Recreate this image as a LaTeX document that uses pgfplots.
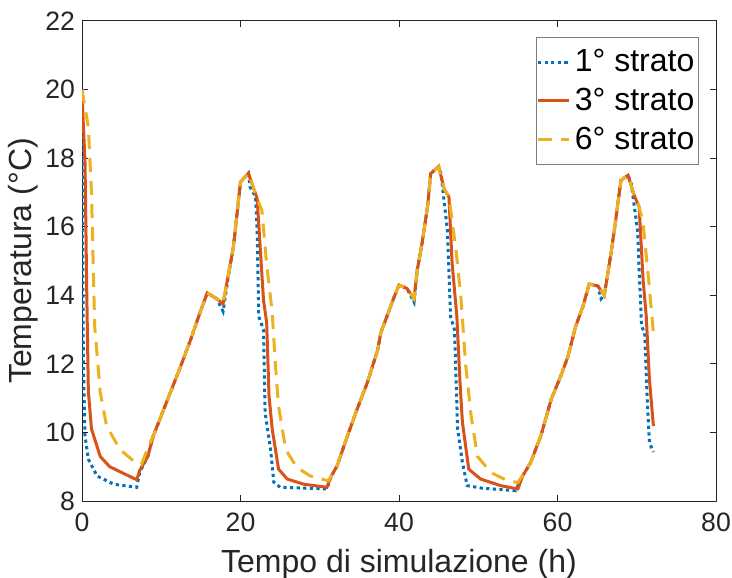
\documentclass[border=0pt]{standalone}
\usepackage{fontspec}
\setmainfont{Liberation Sans}
\usepackage{pgfplots}
\pgfplotsset{compat=1.18}
\definecolor{mblue}{rgb}{0,0.447,0.741}
\definecolor{mred}{rgb}{0.85,0.325,0.098}
\definecolor{myellow}{rgb}{0.929,0.694,0.125}
\definecolor{axgray}{rgb}{0.15,0.15,0.15}

\begin{document}
\begin{tikzpicture}
\begin{axis}[
  scale only axis, width=317pt, height=240pt,
  xmin=0, xmax=80, ymin=8, ymax=22,
  xtick={0,20,...,80}, ytick={8,10,...,22},
  tick align=inside, major tick length=3pt,
  axis line style={axgray, line width=0.5pt},
  tick style={axgray, line width=0.5pt},
  ticklabel style={font=\fontsize{13.3}{16}\selectfont, text=axgray},
  xticklabel style={yshift=-2.5pt},
  /pgf/number format/assume math mode=true,
  xlabel={Tempo di simulazione (h)}, ylabel={Temperatura (°C)},
  label style={font=\fontsize{16}{19}\selectfont, text=axgray},
  xlabel style={at={(axis description cs:0.5,-0.148)}, anchor=base},
  ylabel style={at={(axis description cs:-0.092,0.5)}, anchor=center},
  legend style={at={(0.973,0.967)}, anchor=north east, draw=axgray!60, line width=0.5pt,
    font=\fontsize{16}{20}\selectfont, inner xsep=0pt, inner ysep=4pt, row sep=2.8pt, text=black},
  legend cell align=left,
  legend image code/.code={\draw[#1] (0cm,0cm) -- (0.55cm,0cm);},
]
\addplot[mblue, line width=1.5pt, dash pattern=on 1.6pt off 1.7pt] coordinates {
(0,19.8) (0.08,16) (0.17,12.1) (0.38,9.9) (0.8,9.22) (1.9,8.73) (4.0,8.49) (6.9,8.4)
(7.3,8.85) (8.3,9.3) (9.0,9.9) (10.7,10.9) (12.4,11.9) (13.7,12.7) (14.9,13.5) (15.8,14.07)
(17.0,13.9) (17.8,13.53) (18.5,14.6) (19.1,15.4) (20.0,17.3) (21.0,17.56) (21.2,17.16)
(21.9,16.87) (22.1,15.9) (22.3,13.38) (22.9,13.0) (23.1,10.58) (23.8,9.5) (24.2,8.55)
(25.0,8.4) (30.9,8.35) (31.4,8.7) (32.2,9.03) (33.5,9.9) (34.7,10.67) (36.0,11.45)
(37.3,12.4) (37.7,12.9) (38.5,13.4) (39.4,13.96) (40.0,14.3) (41.0,14.2) (41.9,13.8)
(42.3,14.74) (42.9,15.5) (43.6,16.58) (44.0,17.55) (45.0,17.76) (45.3,17.55) (46.1,15.9)
(46.5,13.38) (47.0,13.0) (47.4,10.1) (48.0,9.13) (48.6,8.45) (50.3,8.38) (54.7,8.3)
(55.6,8.73) (56.6,9.12) (57.9,9.9) (59.2,10.96) (60.4,11.64) (61.3,12.2) (62.3,13.1)
(63.2,13.67) (64.0,14.33) (65.1,14.27) (65.5,13.9) (65.9,14.0) (66.8,15.3) (67.4,16.29)
(68.0,17.35) (68.9,17.5) (69.3,17.26) (70.1,15.9) (70.6,13.1) (71.0,12.9) (71.3,11.06)
(71.6,9.7) (72.1,9.43)};
\addlegendentry{1° strato}
\addplot[mred, line width=1.5pt] coordinates {
(0,19.85) (0.38,17.9) (0.6,14.1) (0.8,11.2) (1.2,10.1) (2.3,9.3) (3.5,9.0) (6.9,8.62)
(7.3,8.9) (8.3,9.3) (9.0,9.9) (10.7,10.9) (12.4,11.9) (13.7,12.7) (14.9,13.5) (15.8,14.07)
(17.0,13.9) (17.8,13.75) (18.5,14.65) (19.1,15.4) (20.0,17.3) (21.0,17.56) (22.1,16.82)
(22.9,13.87) (23.3,13.2) (23.6,11.06) (24.0,10.1) (24.8,8.93) (25.9,8.64) (28.0,8.49)
(30.9,8.4) (31.4,8.7) (32.2,9.03) (33.5,9.9) (34.7,10.67) (36.0,11.45) (37.3,12.4)
(37.7,12.9) (38.5,13.4) (39.4,13.96) (40.0,14.3) (41.0,14.2) (41.9,13.9) (42.3,14.74)
(42.9,15.5) (43.6,16.58) (44.0,17.55) (45.0,17.76) (45.7,17.1) (46.3,16.87) (46.7,14.94)
(47.3,13.38) (47.7,11.45) (48.0,10.3) (48.8,8.93) (50.3,8.64) (52.8,8.45) (55.0,8.35)
(55.6,8.73) (56.6,9.12) (57.9,9.9) (59.2,10.96) (60.4,11.64) (61.3,12.2) (62.3,13.1)
(63.2,13.67) (64.0,14.33) (65.1,14.27) (65.9,14.0) (66.8,15.3) (67.4,16.29) (68.0,17.35)
(68.9,17.5) (69.7,16.9) (70.3,16.58) (70.8,14.45) (71.2,13.38) (71.6,11.54) (72.1,10.19)};
\addlegendentry{3° strato}
\addplot[myellow, line width=1.5pt, dash pattern=on 7pt off 4.5pt] coordinates {
(0,20.0) (0.8,18.9) (1.2,17.0) (1.4,15.0) (1.6,13.1) (2.3,11.17) (3.1,10.19) (4.8,9.5)
(6.5,9.17) (7.5,9.07) (8.4,9.6) (9.0,9.9) (10.7,10.9) (12.4,11.9) (13.7,12.7) (14.9,13.5)
(15.8,14.07) (17.0,13.9) (17.8,13.75) (18.5,14.65) (19.1,15.4) (20.0,17.3) (21.0,17.56)
(22.1,16.82) (22.7,16.48) (23.3,14.9) (24.0,13.5) (24.4,12.0) (24.8,10.77) (25.7,9.5)
(27.1,8.98) (28.8,8.73) (31.1,8.59) (32.2,9.03) (33.5,9.9) (34.7,10.67) (36.0,11.45)
(37.3,12.4) (37.7,12.9) (38.5,13.4) (39.4,13.96) (40.0,14.3) (41.0,14.2) (41.9,13.9)
(42.3,14.74) (42.9,15.5) (43.6,16.58) (44.0,17.55) (45.0,17.76) (45.7,17.1) (46.3,16.87)
(47.2,15.3) (47.8,13.96) (48.4,12.0) (49.1,10.48) (49.9,9.3) (51.6,8.83) (53.7,8.59)
(55.0,8.54) (55.6,8.75) (56.6,9.12) (57.9,9.9) (59.2,10.96) (60.4,11.64) (61.3,12.2)
(62.3,13.1) (63.2,13.67) (64.0,14.33) (65.1,14.27) (65.9,14.0) (66.8,15.3) (67.4,16.29)
(68.0,17.35) (68.9,17.5) (69.7,16.9) (70.3,16.58) (70.8,16.1) (71.5,14.45) (72.1,12.9)};
\addlegendentry{6° strato}
\end{axis}
\pgfresetboundingbox
\path ([xshift=-41pt,yshift=-38pt]current axis.south west) rectangle ([xshift=8pt,yshift=10.5pt]current axis.north east);
\end{tikzpicture}
\end{document}
